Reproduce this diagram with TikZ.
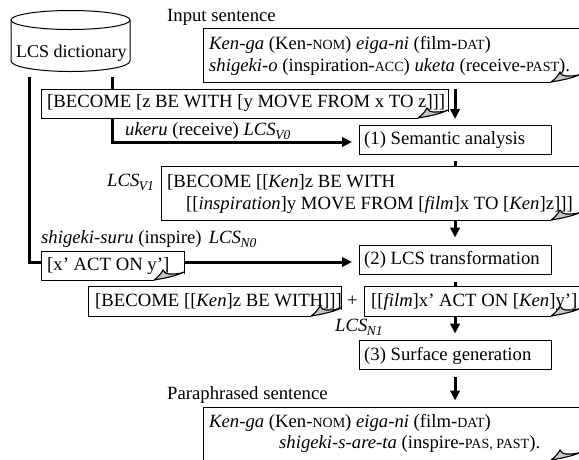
\documentclass[tikz,border=0pt]{standalone}
\usepackage{fontspec}
\setmainfont{Liberation Serif}
\usetikzlibrary{arrows.meta}
\tikzset{
  x=1pt,y=-1pt,
  boxn/.style={draw,line width=1pt,fill=white,inner sep=0pt,anchor=north west},
  proc/.style={boxn,line width=1.1pt,minimum width=192pt,minimum height=29pt},
  txt/.style={inner sep=0pt,anchor=base west,font=\fontsize{18.7pt}{22pt}\selectfont},
  flow/.style={line width=3pt,-{Triangle[length=10pt,width=9.5pt]}},
  heavy/.style={line width=3pt},
}
\newcommand{\fold}[2]{%
  \fill[white] (#1-30,#2+0.8) -- (#1-20,#2-9) -- (#1+0.8,#2-6) -- (#1+0.8,#2+1.5) -- cycle;
  \draw[line width=1.1pt,fill=gray!45] (#1-30,#2) .. controls (#1-26,#2-3) and (#1-23,#2-6) .. (#1-21,#2-10)
     .. controls (#1-20,#2-7) and (#1-17,#2-6) .. (#1-15,#2-6)
     .. controls (#1-10,#2-6) and (#1-4,#2-6) .. (#1,#2-8)
     .. controls (#1-8,#2-4) and (#1-18,#2-2) .. (#1-30,#2);}
\newcommand{\sm}[1]{{\fontsize{14pt}{14pt}\selectfont\MakeUppercase{#1}}}
\newcommand{\subi}[1]{\kern-0.5pt\raisebox{-4.5pt}{\fontsize{13.5pt}{14pt}\selectfont\textit{#1}}}
\begin{document}
\begin{tikzpicture}
\useasboundingbox (0,0) rectangle (579,459);
\clip (0,0) rectangle (579,459);
% cylinder
\draw[line width=1pt,fill=white] (11,20) -- (11,61) arc[start angle=180,end angle=360,x radius=59.5,y radius=-10.5] -- (130,20);
\draw[line width=1pt,fill=white] (70.5,20) ellipse[x radius=59.5,y radius=9.5];
\node[txt,font=\fontsize{18pt}{22pt}\selectfont] (dict) at (16,57) {LCS dictionary};
\coordinate (dictL) at (29,77);
\coordinate (dictR) at (112,77);
% boxes
\node[boxn,minimum width=420pt,minimum height=54pt] (input) at (203,28) {};
\node[boxn,minimum width=407pt,minimum height=29pt] (lcs0) at (41,89) {};
\node[proc] (sem) at (358.5,125) {};
\node[boxn,minimum width=460pt,minimum height=54pt] (lcs1) at (161,166) {};
\node[boxn,minimum width=143pt,minimum height=29pt] (act) at (41,251) {};
\node[proc] (trans) at (358.5,245) {};
\node[boxn,minimum width=253pt,minimum height=30pt] (bec) at (88,286) {};
\node[boxn,minimum width=260pt,minimum height=30pt] (film) at (364,286) {};
\node[proc] (surf) at (358.5,340) {};
\node[boxn,minimum width=420pt,minimum height=70pt] (para) at (203,407) {};
% connectors
\draw[heavy] (dictL) -- (29,262) -- (act.west |- 0,262);
\draw[flow,shorten >=6.5pt] (act.east |- 0,262) -- (trans.west |- 0,262);
\draw[heavy] (dictR) -- (lcs0.north -| dictR);
\draw[flow,shorten >=6.5pt] (lcs0.south -| dictR) -- (112,142) -- (sem.west |- 0,142);
\draw[flow,shorten <=6pt] (input.south -| sem.north) -- (lcs0.south -| sem.north);
\draw[heavy,shorten <=6pt] (sem.south) -- (lcs1.north -| sem.south);
\draw[flow,shorten >=7.5pt] (lcs1.south -| sem.south) -- (trans.north);
\draw[heavy,shorten <=7pt] (trans.south) -- (film.north -| trans.south);
\draw[flow,shorten >=6.5pt] (film.south -| sem.south) -- (surf.north);
\draw[flow,shorten <=7pt,shorten >=6.5pt] (surf.south) -- (para.north -| surf.south);
% folds
\fold{581}{82}
\fold{448}{118}
\fold{581}{220}
\fold{184}{280}
\fold{341}{316}
\fold{581}{316}
\fold{581}{460}
% texts
\node[txt] (t1) at (167,21) {Input sentence};
\node[txt] (t2) at (209,49) {\textit{Ken-ga} (Ken-\sm{nom}) \textit{eiga-ni} (film-\sm{dat})};
\node[txt] (t3) at (209,71) {\textit{shigeki-o} (inspiration-\sm{acc}) \textit{uketa} (receive-\sm{past}).};
\node[txt] (t4) at (47,107) {[BECOME [z BE WITH [y MOVE FROM x TO z]]]};
\node[txt] (t5) at (125,135) {\textit{ukeru} (receive) \textit{LCS}\subi{V0}};
\node[txt] (t6) at (364,144) {(1) Semantic analysis};
\node[txt] (t7) at (107,186) {\textit{LCS}\subi{V1}};
\node[txt] (t8) at (167,187) {[BECOME [[\textit{Ken}]z BE WITH};
\node[txt] (t9) at (186,209) {[[\textit{inspiration}]y MOVE FROM [\textit{film}]x TO [\textit{Ken}]z]]]};
\node[txt] (t10) at (41,243) {\textit{shigeki-suru} (inspire)\ \kern2.5pt\textit{LCS}\subi{N0}};
\node[txt] (t11) at (47,270) {[x’ ACT ON y’]};
\node[txt] (t12) at (364,264) {(2) LCS transformation};
\node[txt] (t13) at (95,306) {[BECOME [[\textit{Ken}]z BE WITH]]]};
\node[txt] (t14) at (347,306) {+};
\node[txt] (t15) at (371,306) {[[\textit{film}]x’ ACT ON [\textit{Ken}]y’]};
\node[txt] (t16) at (335,331) {\textit{LCS}\subi{N1}};
\node[txt] (t17) at (364,360) {(3) Surface generation};
\node[txt] (t18) at (167,399) {Paraphrased sentence};
\node[txt] (t19) at (209,427) {\textit{Ken-ga} (Ken-\sm{nom}) \textit{eiga-ni} (film-\sm{dat})};
\node[txt] (t20) at (279,448) {\textit{shigeki-s-are-ta} (inspire-\sm{pas, past}).};
\end{tikzpicture}
\end{document}
